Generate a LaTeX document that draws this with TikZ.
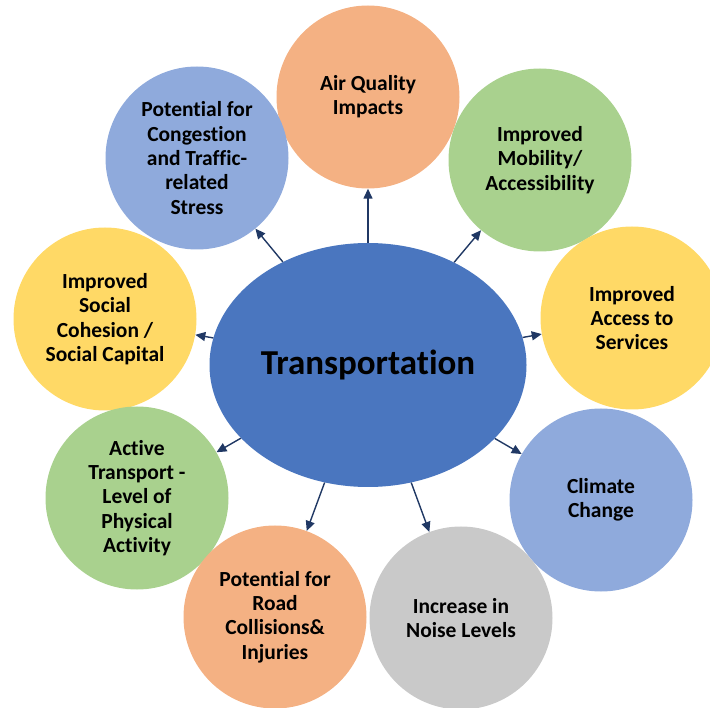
\documentclass[tikz,border=0pt]{standalone}
\usepackage{fontspec}
\setmainfont{Carlito}[Ligatures=NoCommon]
\usetikzlibrary{shapes.geometric,arrows.meta}
\definecolor{corange}{HTML}{F4B183}
\definecolor{cblue}{HTML}{8FAADC}
\definecolor{cgreen}{HTML}{A9D18E}
\definecolor{cyellow}{HTML}{FFD966}
\definecolor{cgrey}{HTML}{C9C9C9}
\definecolor{cmain}{HTML}{4A76BF}
\definecolor{carrow}{HTML}{203864}
\tikzset{
  bubble/.style={circle,minimum size=183pt,inner sep=0pt,align=center,
    font=\bfseries\fontsize{21.5}{24.3}\selectfont,text=black},
  conn/.style={-{Triangle[length=10pt,width=9pt]},line width=1.4pt,draw=carrow}
}
\begin{document}
\begin{tikzpicture}[x=1pt,y=-1pt]
\useasboundingbox (0,0) rectangle (710,708);
\node[bubble,fill=corange] (air) at (368,97) {Air Quality\\Impacts};
\node[bubble,fill=cblue] (cong) at (197,158) {Potential for\\Congestion\\and Traffic-\\related\\Stress};
\node[bubble,fill=cgreen] (mob) at (540,160) {Improved\\Mobility/\\Accessibility};
\node[bubble,fill=cyellow] (soc) at (105,319) {Improved\\Social\\Cohesion /\\Social Capital};
\node[bubble,fill=cyellow] (acc) at (632,318) {Improved\\Access to\\Services};
\node[bubble,fill=cgreen] (act) at (137,498) {Active\\Transport -\\Level of\\Physical\\Activity};
\node[bubble,fill=cblue] (clim) at (601,500) {Climate\\Change};
\node[bubble,fill=corange] (road) at (275,617) {Potential for\\Road\\Collisions\&\\Injuries};
\node[bubble,fill=cgrey] (noise) at (461,618) {Increase in\\Noise Levels};
\node[ellipse,fill=cmain,minimum width=317pt,minimum height=244pt,inner sep=0pt,
  font=\bfseries\fontsize{35}{40}\selectfont] (tr) at (368,365) {Transportation};
\foreach \t in {air,cong,mob,soc,acc,act,clim,road,noise}
  \draw[conn] (tr) -- (\t);
\end{tikzpicture}
\end{document}
